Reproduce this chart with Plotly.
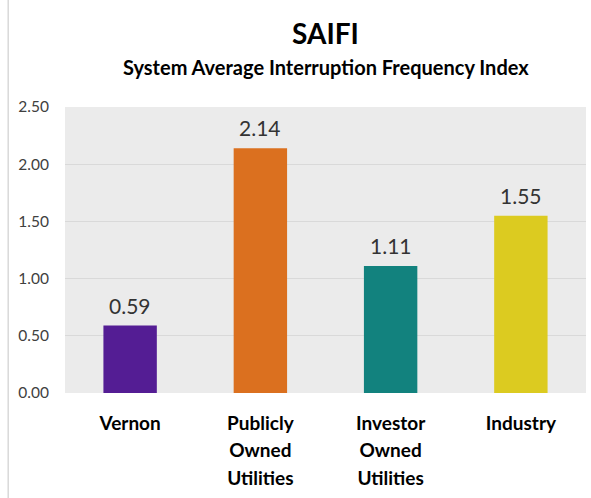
import plotly.graph_objects as go

# Data
categories = ["Vernon", "Publicly<br>Owned<br>Utilities", "Investor<br>Owned<br>Utilities", "Industry"]
saifi_values = [0.59, 2.14, 1.11, 1.55]
bar_colors = ["#541D94", "#DB701F", "#12827E", "#DCCB20"]
y_ticks = [0.0, 0.5, 1.0, 1.5, 2.0, 2.5]

FONT = "Lato, Carlito, Calibri, sans-serif"
PLOT_H = 498 - 107 - 105  # plot area height in px


def paper_y(px):
    # convert a pixel row from the top of the page to paper coords
    return (498 - 105 - px) / PLOT_H


fig = go.Figure(
    go.Bar(
        x=categories,
        y=saifi_values,
        marker=dict(color=bar_colors, line=dict(width=0)),
        width=0.41,
        hoverinfo="x+y",
    )
)

# value labels above the bars
for cat, val in zip(categories, saifi_values):
    fig.add_annotation(
        x=cat, y=val, text=f"{val:.2f}",
        showarrow=False, yanchor="bottom", yshift=6,
        font=dict(family=FONT, size=21, color="#333333"),
    )

# title + subtitle
fig.add_annotation(
    text="<b>SAIFI</b>", xref="paper", yref="paper",
    x=0.5, y=paper_y(33), yanchor="middle", showarrow=False,
    font=dict(family=FONT, size=28, color="black"),
)
fig.add_annotation(
    text="<b>System Average Interruption Frequency Index</b>", xref="paper", yref="paper",
    x=0.5, y=paper_y(67), yanchor="middle", showarrow=False,
    font=dict(family=FONT, size=20, color="black"),
)

fig.update_layout(
    width=591,
    height=498,
    margin=dict(l=65, r=5, t=107, b=105),
    paper_bgcolor="white",
    plot_bgcolor="#EBEBEB",
    showlegend=False,
    xaxis=dict(
        tickvals=categories,
        ticktext=[f"<span style='font-size:19px'><b>{c}</b></span>" for c in categories],
        tickfont=dict(family=FONT, size=21.5, color="black"),
        ticklabelstandoff=14,
        showline=False,
        showgrid=False,
    ),
    yaxis=dict(
        range=[0, 2.5],
        tickvals=y_ticks,
        tickformat=".2f",
        tickfont=dict(family=FONT, size=15.5, color="#404040"),
        gridcolor="#D9D9D9",
        gridwidth=1,
        zeroline=False,
        showline=False,
        ticklabelstandoff=15,
    ),
)

# thin chart border at the left edge
fig.add_shape(
    type="line", xref="paper", yref="paper",
    x0=-0.109, x1=-0.109, y0=-0.4, y1=1.4,
    line=dict(color="#D9D9D9", width=1.5),
)

fig.write_html(
    "out.html",
    config={"displayModeBar": False},
    post_script="document.body.style.margin='0';",
)
